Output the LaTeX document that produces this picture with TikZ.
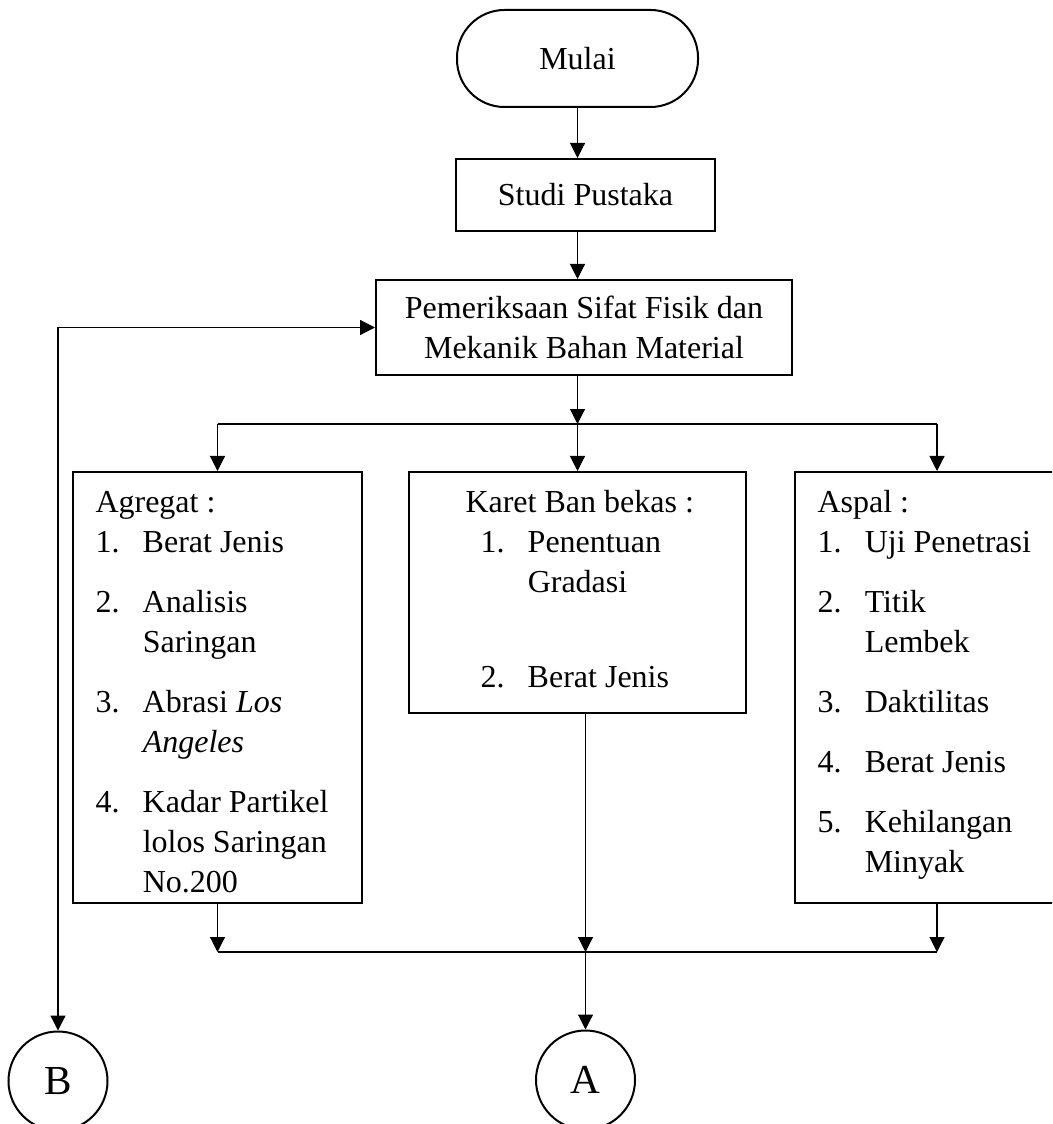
\documentclass[tikz,border=0pt]{standalone}
\usepackage{fontspec}
\setmainfont{Liberation Serif}
\usepackage{tikz}
\usetikzlibrary{arrows.meta}

\begin{document}
\begin{tikzpicture}[x=0.4pt, y=-0.4pt,
		font=\fontsize{12.8}{16}\selectfont,
		box/.style = {draw, line width=0.8pt, rectangle, inner sep=0pt},
		startbox/.style = {box, rounded corners=19pt, minimum width=96.4pt, minimum height=38.8pt},
		connector/.style = {draw, line width=0.8pt, circle, inner sep=0pt, minimum size=39.6pt,
			font=\fontsize{16.5}{19}\selectfont},
		list/.style = {anchor=base west, inner sep=0pt},
		conn/.style = {line width=0.45pt},
		arr/.style = {conn, -{Triangle[length=6pt, width=6pt]}},
		arrboth/.style = {conn, {Triangle[length=6pt, width=6pt]}-{Triangle[length=6pt, width=6pt]}}]
	\clip (0, 0) rectangle (1052, 1124);
	% process boxes
	\node[startbox] (mulai) at (577.5, 58.5) {Mulai};
	\node[box, minimum width=103.6pt, minimum height=28.8pt] (studi) at (585.5, 195) {Studi Pustaka};
	\node[box, minimum width=166.4pt, minimum height=38pt, align=center] (periksa) at (584, 327.5)
		{Pemeriksaan Sifat Fisik dan\\Mekanik Bahan Material};
	\node[box, minimum width=115.6pt, minimum height=172.4pt] (agregat) at (217.5, 687.5) {};
	\node[box, minimum width=134.8pt, minimum height=96.4pt] (karet) at (577.5, 592.5) {};
	\node[box, minimum width=113.6pt, minimum height=172.4pt] (aspal) at (937, 687.5) {};
	\node[connector] (B) at (58, 1081) {B};
	\node[connector] (A) at (585.5, 1080) {A};
	% lists in the boxes
	\node[list] (agregat-list) at (95, 512) {\begin{tabular}[t]{@{}l@{\hspace{9.3pt}}l@{}}
			\multicolumn{2}{@{}l@{}}{Agregat :}\\
			1. & Berat Jenis\\[8pt]
			2. & Analisis\\
			   & Saringan\\[8pt]
			3. & Abrasi \textit{Los}\\
			   & \textit{Angeles}\\[8pt]
			4. & Kadar Partikel\\
			   & lolos Saringan\\
			   & No.200
		\end{tabular}};
	\node[list] (karet-list) at (465, 512) {\begin{tabular}[t]{@{\hspace{6pt}}l@{\hspace{9.3pt}}l@{}}
			\multicolumn{2}{@{}l@{}}{Karet Ban bekas :}\\
			1. & Penentuan\\
			   & Gradasi\\[22pt]
			2. & Berat Jenis
		\end{tabular}};
	\node[list] (aspal-list) at (817, 512) {\begin{tabular}[t]{@{}l@{\hspace{9.3pt}}l@{}}
			\multicolumn{2}{@{}l@{}}{Aspal :}\\
			1. & Uji Penetrasi\\[8pt]
			2. & Titik\\
			   & Lembek\\[8pt]
			3. & Daktilitas\\[8pt]
			4. & Berat Jenis\\[8pt]
			5. & Kehilangan\\
			   & Minyak
		\end{tabular}};
	% connectors
	\coordinate (split) at (577.5, 424);
	\coordinate (join) at (585.5, 952);
	\draw[arr] (mulai) -- (mulai |- studi.north);
	\draw[arr] (mulai |- studi.south) -- (mulai |- periksa.north);
	\draw[arr] (split |- periksa.south) -- (split);
	\draw[conn] (agregat.north |- split) -- (aspal.north |- split);
	\foreach \n in {agregat, karet, aspal}
		\draw[arr] (\n.north |- split) -- (\n.north);
	\draw[arr] (agregat.south) -- (agregat.south |- join);
	\draw[arr] (join |- karet.south) -- (join);
	\draw[arr] (aspal.south) -- (aspal.south |- join);
	\draw[conn] (agregat.south |- join) -- (aspal.south |- join);
	\draw[arr] (join) -- (A);
	\draw[arrboth] (periksa.west) -| (B);
\end{tikzpicture}
\end{document}
